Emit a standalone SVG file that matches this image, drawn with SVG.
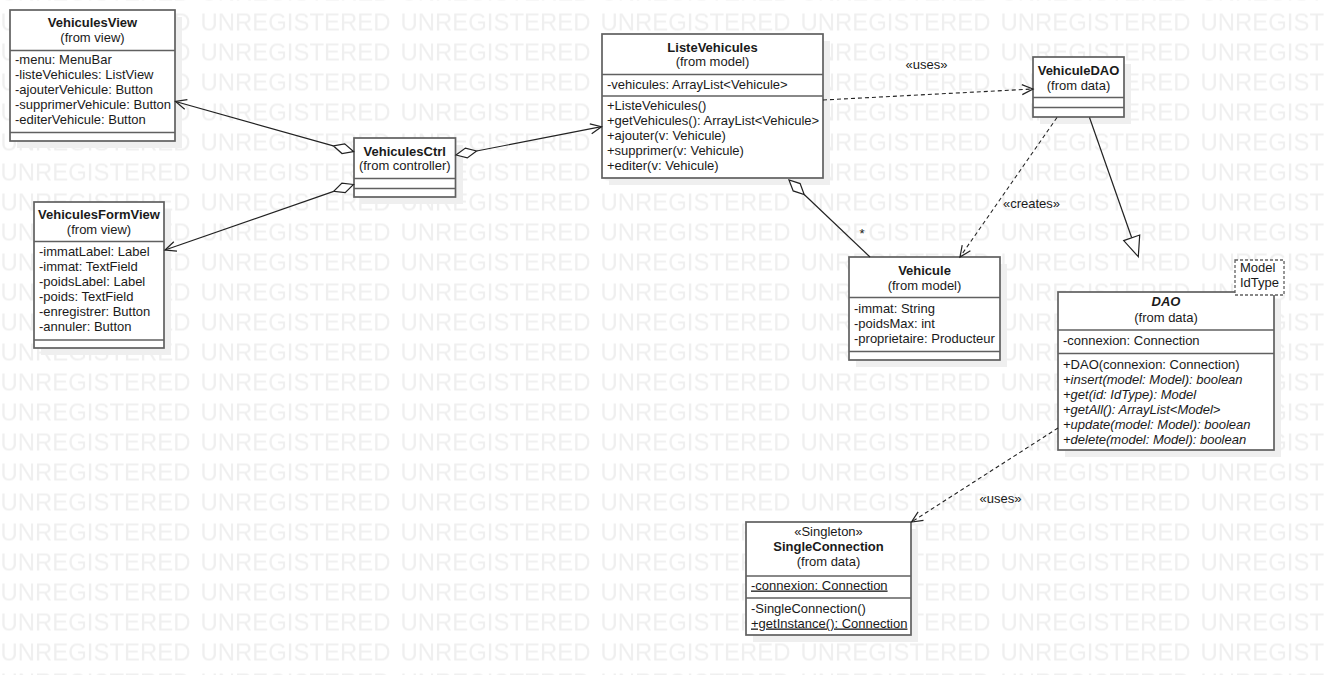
<svg xmlns="http://www.w3.org/2000/svg" width="1324" height="675" viewBox="0 0 1324 675">
<style>
  text { font-family: "Liberation Sans", Arial, sans-serif; font-size: 13px; fill: #1a1a1a; }
  .wm { font-size: 24px; fill: #efefef; }
  .name { font-weight: bold; text-anchor: middle; }
  .from { text-anchor: middle; }
  .mid { text-anchor: middle; }
  .it { font-style: italic; }
  .ul { text-decoration: underline; }
  .box { fill: #ffffff; stroke: #606060; stroke-width: 1.7; }
  .shadow { fill: #efefef; stroke: none; }
  .div { stroke: #606060; stroke-width: 1.7; }
  .tmpl { fill: #ffffff; stroke: #606060; stroke-width: 1.3; stroke-dasharray: 3 2; }
  .line { fill: none; stroke: #222222; stroke-width: 1.2; }
  .dash { fill: none; stroke: #222222; stroke-width: 1.1; stroke-dasharray: 4 3; }
  .head { fill: none; stroke: #222222; stroke-width: 1.2; stroke-linejoin: miter; }
  .hollow { fill: #ffffff; stroke: #222222; stroke-width: 1.2; stroke-linejoin: miter; }
</style>
<defs>
  <pattern id="wm" patternUnits="userSpaceOnUse" x="0" y="10.5" width="200" height="30">
    <text class="wm" x="0.5" y="20" textLength="190" lengthAdjust="spacingAndGlyphs">UNREGISTERED</text>
  </pattern>
</defs>

<rect x="0" y="0" width="1324" height="675" fill="#ffffff"/>
<rect x="0" y="0" width="1324" height="675" fill="url(#wm)"/>

<g id="VehiculesView">
  <rect class="shadow" x="17" y="17" width="165" height="131"/>
  <rect class="box" x="10" y="10" width="165" height="131"/>
  <line class="div" x1="10" y1="50.5" x2="175" y2="50.5"/>
  <line class="div" x1="10" y1="132.5" x2="175" y2="132.5"/>
  <text x="92.5" y="27" class="name">VehiculesView</text>
  <text x="92.5" y="42" class="from">(from view)</text>
  <text x="15" y="64">-menu: MenuBar</text>
  <text x="15" y="79">-listeVehicules: ListView</text>
  <text x="15" y="94">-ajouterVehicule: Button</text>
  <text x="15" y="109">-supprimerVehicule: Button</text>
  <text x="15" y="124">-editerVehicule: Button</text>
</g>

<g id="VehiculesCtrl">
  <rect class="shadow" x="361" y="145" width="102" height="59"/>
  <rect class="box" x="354" y="138" width="101.5" height="59"/>
  <line class="div" x1="354" y1="178.5" x2="455.5" y2="178.5"/>
  <line class="div" x1="354" y1="188.5" x2="455.5" y2="188.5"/>
  <text x="404.75" y="155.5" class="name">VehiculesCtrl</text>
  <text x="404.75" y="170" class="from">(from controller)</text>
</g>

<g id="VehiculesFormView">
  <rect class="shadow" x="41" y="209" width="130" height="146"/>
  <rect class="box" x="34" y="202" width="130" height="146"/>
  <line class="div" x1="34" y1="241.5" x2="164" y2="241.5"/>
  <line class="div" x1="34" y1="340" x2="164" y2="340"/>
  <text x="99" y="218.5" class="name">VehiculesFormView</text>
  <text x="99" y="234" class="from">(from view)</text>
  <text x="39" y="256">-immatLabel: Label</text>
  <text x="39" y="271">-immat: TextField</text>
  <text x="39" y="286">-poidsLabel: Label</text>
  <text x="39" y="301">-poids: TextField</text>
  <text x="39" y="316">-enregistrer: Button</text>
  <text x="39" y="331">-annuler: Button</text>
</g>

<g id="ListeVehicules">
  <rect class="shadow" x="609" y="41" width="221" height="144"/>
  <rect class="box" x="602" y="34" width="221" height="144"/>
  <line class="div" x1="602" y1="74.5" x2="823" y2="74.5"/>
  <line class="div" x1="602" y1="96" x2="823" y2="96"/>
  <text x="712.5" y="52" class="name">ListeVehicules</text>
  <text x="712.5" y="66" class="from">(from model)</text>
  <text x="607" y="88.5">-vehicules: ArrayList&lt;Vehicule&gt;</text>
  <text x="607" y="110">+ListeVehicules()</text>
  <text x="607" y="125">+getVehicules(): ArrayList&lt;Vehicule&gt;</text>
  <text x="607" y="140">+ajouter(v: Vehicule)</text>
  <text x="607" y="155">+supprimer(v: Vehicule)</text>
  <text x="607" y="170">+editer(v: Vehicule)</text>
</g>

<g id="VehiculeDAO">
  <rect class="shadow" x="1040" y="64" width="91" height="60"/>
  <rect class="box" x="1033" y="57" width="91" height="60"/>
  <line class="div" x1="1033" y1="97.5" x2="1124" y2="97.5"/>
  <line class="div" x1="1033" y1="107.5" x2="1124" y2="107.5"/>
  <text x="1078.5" y="74.5" class="name">VehiculeDAO</text>
  <text x="1078.5" y="89.5" class="from">(from data)</text>
</g>

<g id="Vehicule">
  <rect class="shadow" x="856" y="264" width="151" height="103"/>
  <rect class="box" x="849" y="257" width="151" height="103"/>
  <line class="div" x1="849" y1="297.5" x2="1000" y2="297.5"/>
  <line class="div" x1="849" y1="351.5" x2="1000" y2="351.5"/>
  <text x="924.5" y="275" class="name">Vehicule</text>
  <text x="924.5" y="289.5" class="from">(from model)</text>
  <text x="854" y="313">-immat: String</text>
  <text x="854" y="328">-poidsMax: int</text>
  <text x="854" y="343">-proprietaire: Producteur</text>
</g>

<g id="DAO">
  <rect class="shadow" x="1065" y="299" width="216" height="158"/>
  <rect class="box" x="1058" y="292" width="216" height="158"/>
  <line class="div" x1="1058" y1="330" x2="1274" y2="330"/>
  <line class="div" x1="1058" y1="353.5" x2="1274" y2="353.5"/>
  <text x="1166" y="305.5" class="name it">DAO</text>
  <text x="1166" y="321.5" class="from">(from data)</text>
  <text x="1063" y="345">-connexion: Connection</text>
  <text x="1063" y="368.5">+DAO(connexion: Connection)</text>
  <text x="1063" y="383.5" class="it">+insert(model: Model): boolean</text>
  <text x="1063" y="398.5" class="it">+get(id: IdType): Model</text>
  <text x="1063" y="413.5" class="it">+getAll(): ArrayList&lt;Model&gt;</text>
  <text x="1063" y="428.5" class="it">+update(model: Model): boolean</text>
  <text x="1063" y="443.5" class="it">+delete(model: Model): boolean</text>
  <rect class="tmpl" x="1235" y="260" width="49" height="35"/>
  <text x="1240" y="272">Model</text>
  <text x="1240" y="286.5">IdType</text>
</g>

<g id="SingleConnection">
  <rect class="shadow" x="753" y="529" width="165" height="113"/>
  <rect class="box" x="746" y="522" width="165" height="113"/>
  <line class="div" x1="746" y1="576" x2="911" y2="576"/>
  <line class="div" x1="746" y1="598" x2="911" y2="598"/>
  <text x="828.5" y="536" class="mid">«Singleton»</text>
  <text x="828.5" y="551" class="name">SingleConnection</text>
  <text x="828.5" y="565.5" class="from">(from data)</text>
  <text x="751" y="589.5" class="ul">-connexion: Connection</text>
  <text x="751" y="613">-SingleConnection()</text>
  <text x="751" y="627.5" class="ul">+getInstance(): Connection</text>
</g>

<g id="connectors">
  <!-- VehiculesCtrl to VehiculesView -->
  <line class="line" x1="333.3" y1="145.8" x2="175.5" y2="101.5"/>
  <path class="head" d="M187.4,99.7 L175.5,101.5 L184.7,109.3"/>
  <path class="hollow" d="M353.5,151.5 L344.7,143.8 L333.3,145.8 L342.0,153.5 Z"/>
  <!-- VehiculesCtrl to VehiculesFormView -->
  <line class="line" x1="333.7" y1="191.4" x2="165" y2="250"/>
  <path class="head" d="M173.8,241.7 L165,250 L177.0,251.1"/>
  <path class="hollow" d="M353.5,184.5 L341.9,183.2 L333.7,191.4 L345.2,192.7 Z"/>
  <!-- VehiculesCtrl to ListeVehicules -->
  <line class="line" x1="476.6" y1="151.0" x2="601.5" y2="126.7"/>
  <path class="head" d="M591.7,133.7 L601.5,126.7 L589.8,123.9"/>
  <path class="hollow" d="M456,155 L467.3,157.9 L476.6,151.0 L465.4,148.1 Z"/>
  <!-- ListeVehicules aggregation Vehicule -->
  <line class="line" x1="804.2" y1="194.5" x2="870" y2="257"/>
  <path class="hollow" d="M789,180 L793.2,190.9 L804.2,194.5 L800.1,183.6 Z"/>
  <text x="862" y="238" class="mid">*</text>
  <!-- ListeVehicules uses VehiculeDAO -->
  <line class="dash" x1="823" y1="100" x2="1033" y2="89"/>
  <path class="head" d="M1022.3,94.6 L1033,89 L1021.8,84.6"/>
  <text x="926.5" y="69" class="mid">«uses»</text>
  <!-- VehiculeDAO creates Vehicule -->
  <line class="dash" x1="1057" y1="117.5" x2="960" y2="257"/>
  <path class="head" d="M962.2,245.1 L960,257 L970.4,250.8"/>
  <text x="1031.5" y="207.5" class="mid">«creates»</text>
  <!-- VehiculeDAO extends DAO -->
  <line class="line" x1="1089.5" y1="117.5" x2="1131.7" y2="237.8"/>
  <path class="hollow" d="M1138.3,256.7 L1123.7,240.6 L1139.7,235.0 Z"/>
  <!-- DAO uses SingleConnection -->
  <line class="dash" x1="1058" y1="428" x2="911.5" y2="522"/>
  <path class="head" d="M918.1,511.9 L911.5,522 L923.5,520.3"/>
  <text x="1000.5" y="503" class="mid">«uses»</text>
</g>
</svg>
